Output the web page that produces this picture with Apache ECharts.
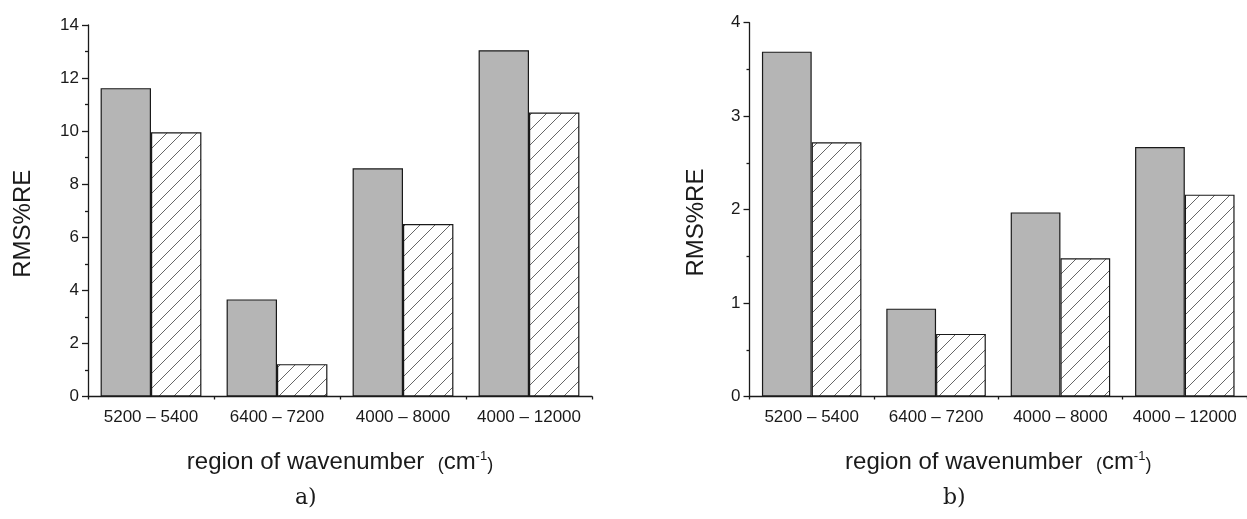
<!DOCTYPE html>
<html>
<head>
<meta charset="utf-8">
<script src="https://cdn.jsdelivr.net/npm/echarts@6/dist/echarts.min.js"></script>
<style>
  html, body { margin: 0; padding: 0; background: #ffffff; }
  #chart { width: 1247px; height: 519px; }
</style>
</head>
<body>
<div id="chart"></div>
<script>
// ---- data ----
const categories = ['5200 – 5400', '6400 – 7200', '4000 – 8000', '4000 – 12000'];
const aSolid = [11.62, 3.66, 8.60, 13.05];
const aHatched = [9.96, 1.22, 6.50, 10.70];
const bSolid = [3.69, 0.94, 1.97, 2.67];
const bHatched = [2.72, 0.67, 1.48, 2.16];
const aTicks = { min: 0, max: 14, interval: 2 };
const bTicks = { min: 0, max: 4, interval: 1 };
const yTitle = 'RMS%RE';
const panelLabels = ['a)', 'b)'];

// ---- hatch pattern ----
function makeHatch() {
  const s = 15;
  const c = document.createElement('canvas');
  c.width = s; c.height = s;
  const ctx = c.getContext('2d');
  ctx.fillStyle = '#ffffff';
  ctx.fillRect(0, 0, s, s);
  ctx.strokeStyle = '#555555';
  ctx.lineWidth = 0.9;
  ctx.beginPath();
  ctx.moveTo(-1, s + 1); ctx.lineTo(s + 1, -1);
  ctx.moveTo(-2, 1); ctx.lineTo(1, -2);
  ctx.moveTo(s - 1, s + 2); ctx.lineTo(s + 2, s - 1);
  ctx.stroke();
  return c;
}
const hatch = { image: makeHatch(), repeat: 'repeat' };

const FONT = 'Liberation Sans, Arial, sans-serif';
const SERIF = 'DejaVu Serif, Liberation Serif, serif';
const black = '#1a1a1a';

const grids = [
  { left: 88, right: 655, top: 25, bottom: 122.5 },
  { left: 749.5, right: -7, top: 22.7, bottom: 122.5 }
];
const yNameGaps = [53, 41];

const xNameText = '{a|region of wavenumber  }{p|(}{a|cm}{s|-1}{p|)}';
const xNameStyle = {
  rich: {
    a: { fontSize: 24, fontFamily: FONT, color: black },
    p: { fontSize: 18, fontFamily: FONT, color: black, padding: [5, 0, 0, 0] },
    s: { fontSize: 13, fontFamily: FONT, color: black, padding: [0, 0, 13, 0] }
  }
};

const xAxes = [];
const yAxes = [];
[0, 1].forEach(function (g) {
  xAxes.push({
    type: 'category', gridIndex: g, data: categories,
    axisLine: { lineStyle: { color: black, width: 1.3 } },
    axisTick: { alignWithLabel: true, interval: 0, length: 7, lineStyle: { color: black, width: 1.3 } },
    axisLabel: { interval: 0, fontSize: 17, fontFamily: FONT, color: black, margin: 12 },
    name: xNameText, nameLocation: 'middle', nameGap: 53, nameTextStyle: xNameStyle,
    splitLine: { show: false }
  });
  xAxes.push({
    type: 'category', gridIndex: g, data: categories, position: 'bottom',
    axisLine: { show: false },
    axisTick: { show: true, interval: 0, length: 3, lineStyle: { color: black, width: 1.3 } },
    axisLabel: { show: false },
    splitLine: { show: false }
  });
  const t = g === 0 ? aTicks : bTicks;
  yAxes.push({
    type: 'value', gridIndex: g, min: t.min, max: t.max, interval: t.interval,
    axisLine: { show: true, lineStyle: { color: black, width: 1.3 } },
    axisTick: { show: true, length: 6, lineStyle: { color: black, width: 1.3 } },
    minorTick: { show: true, splitNumber: 2, length: 3, lineStyle: { color: black, width: 1.3 } },
    axisLabel: { fontSize: 17, fontFamily: FONT, color: black, margin: 9 },
    splitLine: { show: false },
    name: yTitle, nameLocation: 'middle', nameGap: yNameGaps[g],
    nameTextStyle: { fontSize: 24, fontFamily: FONT, color: black, padding: [0, 26, 0, 0] }
  });
});

function barSeries(name, data, g, hatched) {
  return {
    name: name, type: 'bar', xAxisIndex: g * 2, yAxisIndex: g, data: data,
    barGap: '0%', barCategoryGap: '20%',
    itemStyle: {
      color: hatched ? hatch : '#b5b5b5',
      borderColor: black, borderWidth: 1.2
    },
    emphasis: { disabled: true },
    animation: false
  };
}

const chart = echarts.init(document.getElementById('chart'), null, { renderer: 'canvas' });
chart.setOption({
  backgroundColor: '#ffffff',
  animation: false,
  grid: grids,
  xAxis: xAxes,
  yAxis: yAxes,
  series: [
    barSeries('a solid', aSolid, 0, false),
    barSeries('a hatched', aHatched, 0, true),
    barSeries('b solid', bSolid, 1, false),
    barSeries('b hatched', bHatched, 1, true)
  ],
  graphic: [
    { type: 'text', left: 295, top: 487, style: { text: panelLabels[0], fontSize: 22, fontFamily: SERIF, fill: black } },
    { type: 'text', left: 943, top: 487, style: { text: panelLabels[1], fontSize: 22, fontFamily: SERIF, fill: black } }
  ]
});
</script>
</body>
</html>
